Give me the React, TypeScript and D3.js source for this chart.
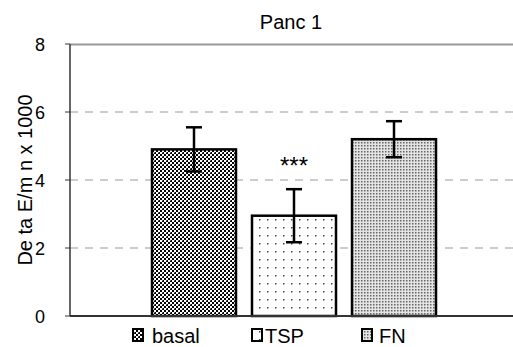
import React from "react";
import * as d3 from "d3";

const categories = ["basal", "TSP", "FN"];
const values = [4.9, 2.95, 5.2];
const errors = [0.65, 0.78, 0.53];
const yTicks = [0, 2, 4, 6, 8];
const title = "Panc 1";
const yLabel = "De ta E/m n x 1000";
const annotation = "***";

const W = 513;
const H = 347;
const left = 70;
const top = 44;
const bottom = 316;

export default function App() {
  const y = d3.scaleLinear().domain([0, 8]).range([bottom, top]);
  const x = d3.scaleBand().domain(categories).range([144, 444]).paddingInner(0.16).paddingOuter(0.08);
  const patterns = ["pBasal", "pTSP", "pFN"];
  const legendIconX = [133, 252, 362];
  const legendTextX = [152, 265, 379];
  const font = "'Liberation Sans', Arial, sans-serif";
  return (
    <svg width={W} height={H} style={{ position: "absolute", left: 0, top: 0 }} fontFamily={font}>
      <defs>
        <pattern id="pBasal" width={4} height={4} patternUnits="userSpaceOnUse">
          <rect width={4} height={4} fill="#000" />
          <rect x={0} y={0} width={2} height={2} fill="#fff" />
          <rect x={2} y={2} width={2} height={2} fill="#fff" />
          <rect x={2} y={0} width={1} height={1} fill="#666" />
        </pattern>
        <pattern id="pTSP" width={8} height={8} patternUnits="userSpaceOnUse">
          <rect width={8} height={8} fill="#fff" />
          <rect x={3} y={3} width={1.5} height={1.5} fill="#444" />
        </pattern>
        <pattern id="pFN" width={3} height={3} patternUnits="userSpaceOnUse">
          <rect width={3} height={3} fill="#e4e4e4" />
          <rect x={1} y={1} width={1.5} height={1.5} fill="#666" />
        </pattern>
      </defs>
      <rect width={W} height={H} fill="#fff" />
      <text x={291} y={29} textAnchor="middle" fontSize={20}>{title}</text>
      {yTicks.filter((t) => t > 0 && t < 8).map((t) => (
        <line key={t} x1={left} x2={W} y1={y(t)} y2={y(t)} stroke="#999" strokeDasharray="8,7" strokeWidth={1} />
      ))}
      <line x1={left} x2={W} y1={y(8) + 0.5} y2={y(8) + 0.5} stroke="#999" strokeWidth={2} />
      {categories.map((c, i) => {
        const bx = x(c)!;
        const bw = x.bandwidth();
        const cx = bx + bw / 2;
        return (
          <g key={c}>
            <rect x={bx} y={y(values[i])} width={bw} height={bottom - y(values[i])} fill={`url(#${patterns[i]})`} stroke="#000" strokeWidth={2.5} />
            <line x1={cx} x2={cx} y1={y(values[i] + errors[i])} y2={y(values[i] - errors[i])} stroke="#000" strokeWidth={2.5} />
            <line x1={cx - 8} x2={cx + 8} y1={y(values[i] + errors[i])} y2={y(values[i] + errors[i])} stroke="#000" strokeWidth={2.5} />
            <line x1={cx - 8} x2={cx + 8} y1={y(values[i] - errors[i])} y2={y(values[i] - errors[i])} stroke="#000" strokeWidth={2.5} />
          </g>
        );
      })}
      <text x={x("TSP")! + x.bandwidth() / 2} y={y(values[1] + errors[1]) - 15} textAnchor="middle" fontSize={24}>{annotation}</text>
      <line x1={left} x2={W} y1={bottom} y2={bottom} stroke="#333" strokeWidth={2} />
      <line x1={left} x2={left} y1={top} y2={bottom} stroke="#333" strokeWidth={1.5} />
      {yTicks.map((t) => (
        <g key={t}>
          <line x1={left - 5} x2={left} y1={y(t)} y2={y(t)} stroke="#333" strokeWidth={1} />
          <text x={45} y={y(t) + 6.5} textAnchor="end" fontSize={18}>{t}</text>
        </g>
      ))}
      <text transform={`translate(32,${(top + bottom) / 2}) rotate(-90)`} textAnchor="middle" fontSize={20}>{yLabel}</text>
      {categories.map((c, i) => (
        <g key={c}>
          <rect x={legendIconX[i]} y={329} width={10} height={12} fill={`url(#${patterns[i]})`} stroke="#000" strokeWidth={2} />
          <text x={legendTextX[i]} y={343} fontSize={20}>{c}</text>
        </g>
      ))}
    </svg>
  );
}
